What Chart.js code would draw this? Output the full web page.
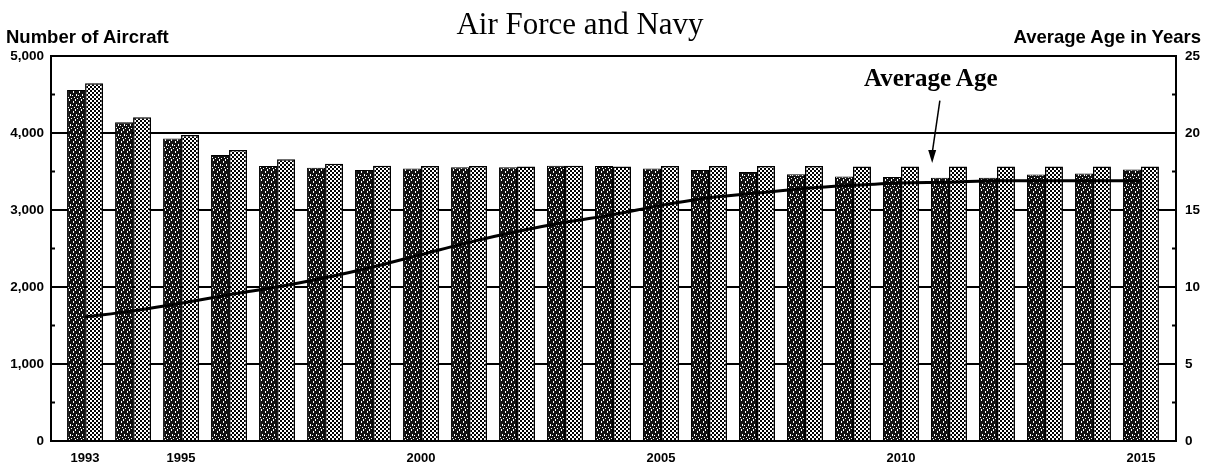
<!DOCTYPE html>
<html>
<head>
<meta charset="utf-8">
<script src="https://cdn.jsdelivr.net/npm/chart.js@4/dist/chart.umd.min.js"></script>
<style>
  body { margin: 0; background: #fff; }
  #wrap { position: relative; width: 1209px; height: 463px; }
  .txt { position: absolute; white-space: nowrap; color: #000; }
  #title { left: 0; width: 1160px; top: 6px; text-align: center; font: 31px "Liberation Serif", serif; }
  #ltitle { left: 6px; top: 26px; font: bold 18.5px "Liberation Sans", Arial, sans-serif; }
  #rtitle { right: 8px; top: 26px; font: bold 18.5px "Liberation Sans", Arial, sans-serif; }
  #note { left: 864px; top: 64px; font: bold 25px "Liberation Serif", serif; }
</style>
</head>
<body>
<div id="wrap">
  <canvas id="chart" width="1209" height="463"></canvas>
  <div class="txt" id="title">Air Force and Navy</div>
  <div class="txt" id="ltitle">Number of Aircraft</div>
  <div class="txt" id="rtitle">Average Age in Years</div>
  <div class="txt" id="note">Average Age</div>
</div>
<script>
// donnees
var years = [1993, 1994, 1995, 1996, 1997, 1998, 1999, 2000, 2001, 2002, 2003, 2004,
             2005, 2006, 2007, 2008, 2009, 2010, 2011, 2012, 2013, 2014, 2015];
var aircraftDark = [4560, 4140, 3930, 3715, 3570, 3550, 3520, 3540, 3555, 3555, 3575, 3570,
                    3540, 3520, 3495, 3465, 3435, 3430, 3420, 3420, 3460, 3475, 3525];
var aircraftLight = [4645, 4205, 3975, 3780, 3660, 3600, 3575, 3570, 3570, 3565, 3575, 3565,
                     3570, 3570, 3570, 3570, 3565, 3565, 3565, 3565, 3565, 3565, 3565];
var averageAge = [8.05, 8.45, 8.95, 9.5, 10.0, 10.6, 11.3, 12.1, 12.9, 13.6, 14.2, 14.7,
                  15.3, 15.8, 16.1, 16.4, 16.6, 16.75, 16.8, 16.9, 16.9, 16.9, 16.9];
var xTickYears = [1993, 1995, 2000, 2005, 2010, 2015];
var leftTicks = [0, 1000, 2000, 3000, 4000, 5000];
var rightTicks = [0, 5, 10, 15, 20, 25];

// trame sombre (noir avec petits traits blancs)
function darkPattern() {
    var c = document.createElement('canvas');
    c.width = 6; c.height = 10;
    var g = c.getContext('2d');
    g.fillStyle = '#111';
    g.fillRect(0, 0, 6, 10);
    g.fillStyle = '#fff';
    [[1, 1], [1, 2], [4, 4], [4, 5], [2, 7], [5, 8], [3, 0], [0, 5], [3, 9]].forEach(function (p) {
        g.fillRect(p[0], p[1], 1, 1);
    });
    return g.createPattern(c, 'repeat');
}

// trame claire (damier de points)
function lightPattern() {
    var c = document.createElement('canvas');
    c.width = 4; c.height = 4;
    var g = c.getContext('2d');
    g.fillStyle = '#fff';
    g.fillRect(0, 0, 4, 4);
    g.fillStyle = '#000';
    g.fillRect(0, 0, 2, 2);
    g.fillRect(2, 2, 2, 2);
    return g.createPattern(c, 'repeat');
}

// petites graduations vers l'interieur + fleche de l'annotation
var extrasPlugin = {
    id: 'extras',
    afterDatasetsDraw: function (chart) {
        var ctx = chart.ctx;
        var x = chart.scales.x, y = chart.scales.y, y1 = chart.scales.y1;
        ctx.save();
        ctx.strokeStyle = '#000';
        ctx.lineWidth = 2;
        for (var v = 500; v < 5000; v += 1000) {
            var py = y.getPixelForValue(v);
            ctx.beginPath();
            ctx.moveTo(chart.chartArea.left, py);
            ctx.lineTo(chart.chartArea.left + 4, py);
            ctx.stroke();
        }
        for (var a = 2.5; a < 25; a += 5) {
            var pa = y1.getPixelForValue(a);
            ctx.beginPath();
            ctx.moveTo(chart.chartArea.right, pa);
            ctx.lineTo(chart.chartArea.right - 4, pa);
            ctx.stroke();
        }
        // fleche "Average Age"
        var x0 = x.getPixelForValue(2010.81), y0 = y1.getPixelForValue(22.1);
        var xt = x.getPixelForValue(2010.65), yt = y1.getPixelForValue(18.05);
        ctx.lineWidth = 1.5;
        ctx.beginPath();
        ctx.moveTo(x0, y0);
        ctx.lineTo(xt, yt - 10);
        ctx.stroke();
        ctx.fillStyle = '#000';
        ctx.beginPath();
        ctx.moveTo(xt, yt);
        ctx.lineTo(xt - 4, yt - 13);
        ctx.lineTo(xt + 4, yt - 13);
        ctx.closePath();
        ctx.fill();
        ctx.restore();
    }
};

var tickFont = { family: '"Liberation Sans", Arial, sans-serif', size: 13.5, weight: 'bold' };

function setupChart() {
    var ctx = document.getElementById('chart');
    new Chart(ctx, {
        type: 'bar',
        data: {
            datasets: [{
                label: 'Aircraft (dark)',
                data: years.map(function (yr, i) { return { x: yr, y: aircraftDark[i] }; }),
                backgroundColor: darkPattern(),
                borderColor: '#000',
                borderWidth: 1,
                yAxisID: 'y',
                order: 1
            }, {
                label: 'Aircraft (light)',
                data: years.map(function (yr, i) { return { x: yr, y: aircraftLight[i] }; }),
                backgroundColor: lightPattern(),
                borderColor: '#000',
                borderWidth: 1.5,
                yAxisID: 'y',
                order: 2
            }, {
                type: 'line',
                label: 'Average Age',
                data: years.map(function (yr, i) { return { x: yr, y: averageAge[i] }; }),
                borderColor: '#000',
                borderWidth: 3,
                pointRadius: 0,
                fill: false,
                cubicInterpolationMode: 'monotone',
                yAxisID: 'y1',
                order: 0
            }]
        },
        options: {
            responsive: false,
            animation: false,
            layout: { padding: { top: 56, left: 0, right: 0, bottom: 0 } },
            plugins: { legend: { display: false }, tooltip: { enabled: false } },
            datasets: { bar: { categoryPercentage: 0.75, barPercentage: 1.0 } },
            scales: {
                x: {
                    type: 'linear',
                    offset: false,
                    min: 1992.29,
                    max: 2015.73,
                    afterBuildTicks: function (s) { s.ticks = xTickYears.map(function (v) { return { value: v }; }); },
                    afterFit: function (s) { s.height = 22; },
                    grid: { display: false },
                    border: { display: true, color: '#000', width: 2 },
                    ticks: { color: '#000', font: { family: tickFont.family, size: 13, weight: 'bold' },
                             padding: 2, maxRotation: 0,
                             callback: function (v) { return String(v); } }
                },
                y: {
                    position: 'left',
                    min: 0, max: 5000,
                    afterBuildTicks: function (s) { s.ticks = leftTicks.map(function (v) { return { value: v }; }); },
                    afterFit: function (s) { s.width = 51; },
                    grid: { color: '#000', lineWidth: 2, drawTicks: false },
                    border: { display: true, color: '#000', width: 2 },
                    ticks: { color: '#000', font: tickFont, padding: 7,
                             callback: function (v) { return v.toLocaleString('en-US'); } }
                },
                y1: {
                    position: 'right',
                    min: 0, max: 25,
                    afterBuildTicks: function (s) { s.ticks = rightTicks.map(function (v) { return { value: v }; }); },
                    afterFit: function (s) { s.width = 33; },
                    grid: { drawOnChartArea: false, drawTicks: false },
                    border: { display: true, color: '#000', width: 2 },
                    ticks: { color: '#000', font: tickFont, padding: 9 }
                }
            }
        },
        plugins: [extrasPlugin]
    });
}

setupChart();
</script>
</body>
</html>
